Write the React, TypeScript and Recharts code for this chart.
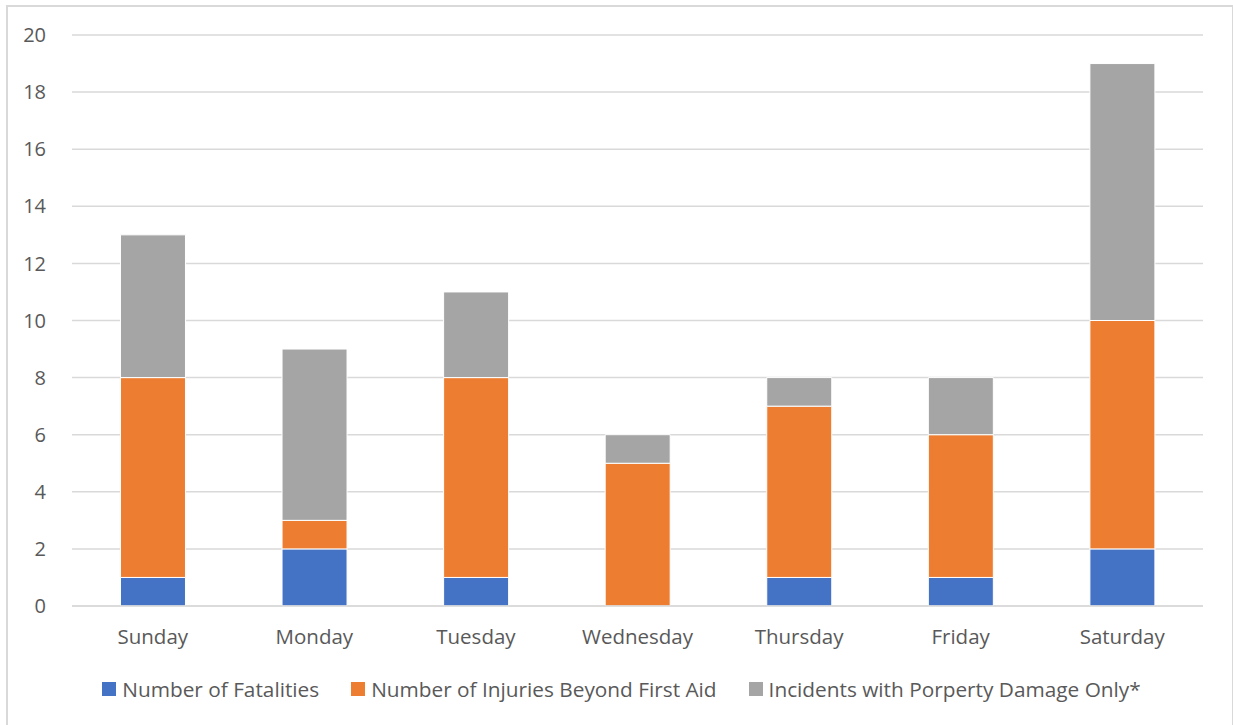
import React from 'react'
import { Bar, BarChart, CartesianGrid, Legend, XAxis, YAxis } from 'recharts'

const days = ['Sunday', 'Monday', 'Tuesday', 'Wednesday', 'Thursday', 'Friday', 'Saturday']
const fatalities = [1, 2, 1, 0, 1, 1, 2]
const injuries = [7, 1, 7, 5, 6, 5, 8]
const propertyDamage = [5, 6, 3, 1, 1, 2, 9]
const yTicks = [0, 2, 4, 6, 8, 10, 12, 14, 16, 18, 20]

const SERIES = [
    { key: 'fatalities', name: 'Number of Fatalities', color: '#4472C4' },
    { key: 'injuries', name: 'Number of Injuries Beyond First Aid', color: '#ED7D31' },
    { key: 'property', name: 'Incidents with Porperty Damage Only*', color: '#A5A5A5' },
]

const FONT = '"Open Sans", sans-serif'
const TEXT = '#595959'

const data = days.map((day, i) => ({
    day,
    fatalities: fatalities[i],
    injuries: injuries[i],
    property: propertyDamage[i],
}))

const LegendBox = () => (
    <div style={{ display: 'flex', justifyContent: 'center', alignItems: 'center', paddingTop: 19, paddingLeft: 10, fontFamily: FONT, fontSize: 20.8, color: TEXT }}>
        {SERIES.map((s) => (
            <div key={s.key} style={{ display: 'flex', alignItems: 'center', margin: '0 16px' }}>
                <span style={{ width: 14, height: 14, background: s.color, display: 'inline-block', marginRight: 6 }} />
                <span>{s.name}</span>
            </div>
        ))}
    </div>
)

export default function App() {
    return (
        <div
            style={{
                position: 'absolute',
                left: 6,
                top: 5,
                width: 1224,
                height: 722,
                border: '2px solid #d9d9d9',
                background: '#fff',
            }}
        >
            <BarChart
                width={1224}
                height={722}
                data={data}
                barCategoryGap="30%"
                margin={{ top: 28, right: 29, left: 22, bottom: 10 }}
            >
                <CartesianGrid vertical={false} stroke="#d9d9d9" strokeWidth={1.5} />
                <XAxis
                    dataKey="day"
                    axisLine={{ stroke: '#d9d9d9', strokeWidth: 1.5 }}
                    tickLine={false}
                    tick={{ fill: TEXT, fontSize: 20.5, fontFamily: FONT }}
                    tickMargin={17}
                    height={50}
                />
                <YAxis
                    domain={[0, 20]}
                    ticks={yTicks}
                    axisLine={false}
                    tickLine={false}
                    tick={{ fill: TEXT, fontSize: 20, fontFamily: FONT }}
                    tickMargin={20}
                    width={42}
                />
                <Legend verticalAlign="bottom" height={63} content={<LegendBox />} />
                {SERIES.map((s) => (
                    <Bar
                        key={s.key}
                        dataKey={s.key}
                        name={s.name}
                        stackId="a"
                        fill={s.color}
                        stroke="#fff"
                        strokeWidth={1}
                        isAnimationActive={false}
                    />
                ))}
            </BarChart>
        </div>
    )
}
